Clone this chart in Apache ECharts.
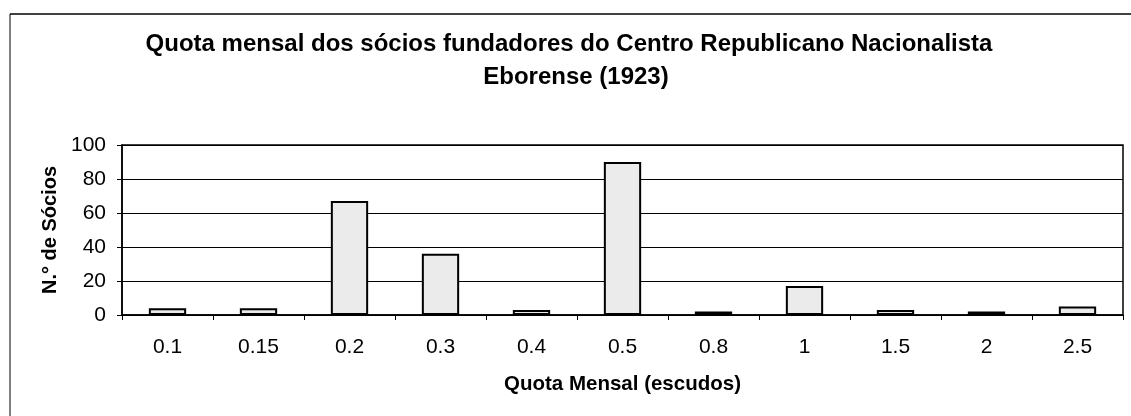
<!DOCTYPE html>
<html><head><meta charset="utf-8">
<script src="https://cdn.jsdelivr.net/npm/echarts@6/dist/echarts.min.js"></script>
<style>html,body{margin:0;padding:0;background:#fff}#c{width:1131px;height:416px}</style>
</head><body><div id="c"></div>
<script>
const categories = ['0.1','0.15','0.2','0.3','0.4','0.5','0.8','1','1.5','2','2.5'];
const socios = [4, 4, 67, 36, 3, 90, 2, 17, 3, 2, 5];
const yTicks = [0, 20, 40, 60, 80, 100];
const titleLines = ['Quota mensal dos sócios fundadores do Centro Republicano Nacionalista', 'Eborense (1923)'];

const chart = echarts.init(document.getElementById('c'));
const F = '"Liberation Sans", Arial, sans-serif';
const tStyle = { fontFamily: F, fontSize: 24, fontWeight: 'bold', color: '#000', lineHeight: 33 };
chart.setOption({
  animation: false,
  backgroundColor: '#fff',
  title: [
    { text: titleLines[0], left: 569, top: 27.5, padding: 0, textAlign: 'center', textStyle: tStyle },
    { text: titleLines[1], left: 576, top: 60.5, padding: 0, textAlign: 'center', textStyle: tStyle }
  ],
  graphic: [
    { type: 'line', shape: { x1: 10, y1: 14, x2: 1131, y2: 14 }, style: { stroke: '#000', lineWidth: 1.5 } },
    { type: 'line', shape: { x1: 10, y1: 14, x2: 10, y2: 416 }, style: { stroke: '#000', lineWidth: 1 } }
  ],
  grid: { left: 122, right: 8, top: 145, bottom: 101, show: true, borderColor: '#000', borderWidth: 1.5, containLabel: false },
  xAxis: {
    type: 'category', data: categories,
    name: 'Quota Mensal (escudos)', nameLocation: 'middle', nameGap: 59,
    nameTextStyle: { fontFamily: F, fontSize: 20.5, fontWeight: 'bold', color: '#000' },
    axisLine: { lineStyle: { color: '#000', width: 1.5 } },
    axisTick: { show: true, alignWithLabel: false, length: 5, lineStyle: { color: '#000' } },
    axisLabel: { fontFamily: F, fontSize: 21, color: '#000', margin: 22 }
  },
  yAxis: {
    type: 'value', min: 0, max: 100, interval: 20,
    name: 'N.° de Sócios', nameLocation: 'middle', nameGap: 55,
    nameTextStyle: { fontFamily: F, fontSize: 20, fontWeight: 'bold', color: '#000' },
    axisLine: { show: true, lineStyle: { color: '#000', width: 1.5 } },
    axisTick: { show: true, length: 5, lineStyle: { color: '#000' } },
    axisLabel: { fontFamily: F, fontSize: 21, color: '#000', margin: 16,
      formatter: v => yTicks.includes(v) ? String(v) : '' },
    splitLine: { show: true, lineStyle: { color: '#000', width: 1 } }
  },
  series: [{
    type: 'bar', data: socios, barWidth: '41%',
    itemStyle: { color: '#ebebeb', borderColor: '#000', borderWidth: 2 }
  }]
});
</script></body></html>
